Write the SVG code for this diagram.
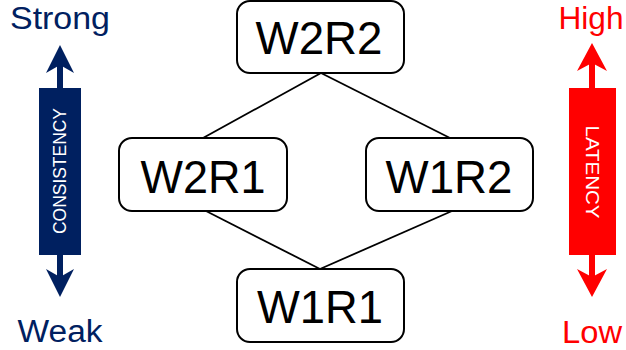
<svg xmlns="http://www.w3.org/2000/svg" width="626" height="350" viewBox="0 0 626 350">
<style>
.node rect{fill:#fff;stroke:#000;stroke-width:2}
.node text{font-family:"Liberation Sans",Arial,sans-serif;font-size:46px;fill:#000;text-anchor:middle}
.conn line{stroke:#000;stroke-width:1.8}
.lbl{font-family:"Liberation Sans",Arial,sans-serif;font-size:31px;text-anchor:middle}
.bar{font-family:"Liberation Sans",Arial,sans-serif;font-size:18px;fill:#fff;text-anchor:middle}
</style>
<rect width="626" height="350" fill="#fff"/>
<g class="conn" id="connectors">
<line x1="321" y1="73" x2="203" y2="138"/>
<line x1="321" y1="73" x2="450" y2="138"/>
<line x1="206" y1="211" x2="320" y2="269"/>
<line x1="452" y1="211" x2="320" y2="269"/>
</g>
<g class="node" id="W2R2"><rect x="237" y="1" width="167" height="72" rx="13"/><text x="319" y="54" textLength="127" lengthAdjust="spacingAndGlyphs">W2R2</text></g>
<g class="node" id="W2R1"><rect x="119" y="138" width="168" height="73" rx="13"/><text x="203" y="193" textLength="125" lengthAdjust="spacingAndGlyphs">W2R1</text></g>
<g class="node" id="W1R2"><rect x="366" y="138" width="167" height="73" rx="13"/><text x="449" y="193" textLength="127" lengthAdjust="spacingAndGlyphs">W1R2</text></g>
<g class="node" id="W1R1"><rect x="237" y="269" width="167" height="73" rx="13"/><text x="320" y="323" textLength="126" lengthAdjust="spacingAndGlyphs">W1R1</text></g>
<g id="consistency">
<text class="lbl" x="60" y="29" fill="#002060" textLength="100" lengthAdjust="spacingAndGlyphs">Strong</text>
<text class="lbl" x="60" y="342" fill="#002060" textLength="85" lengthAdjust="spacingAndGlyphs">Weak</text>
<line x1="60" y1="62" x2="60" y2="280" stroke="#002060" stroke-width="6"/>
<path d="M60,45 L74,73 L60,65 L46,73 Z" fill="#002060"/>
<path d="M60,297 L74,269 L60,277 L46,269 Z" fill="#002060"/>
<rect x="39" y="88" width="42" height="167" fill="#002060"/>
<text class="bar" transform="translate(66,171) rotate(-90)" textLength="126" lengthAdjust="spacingAndGlyphs">CONSISTENCY</text>
</g>
<g id="latency">
<text class="lbl" x="591" y="29" fill="#ff0000" textLength="65" lengthAdjust="spacingAndGlyphs">High</text>
<text class="lbl" x="592" y="343" fill="#ff0000" textLength="60" lengthAdjust="spacingAndGlyphs">Low</text>
<line x1="592" y1="60" x2="592" y2="280" stroke="#ff0000" stroke-width="6"/>
<path d="M592,43 L607,71 L592,63 L577,71 Z" fill="#ff0000"/>
<path d="M592,297 L607,269 L592,277 L577,269 Z" fill="#ff0000"/>
<rect x="569" y="88" width="47" height="167" fill="#ff0000"/>
<text class="bar" transform="translate(586,172) rotate(90)" textLength="93" lengthAdjust="spacingAndGlyphs">LATENCY</text>
</g>
</svg>
